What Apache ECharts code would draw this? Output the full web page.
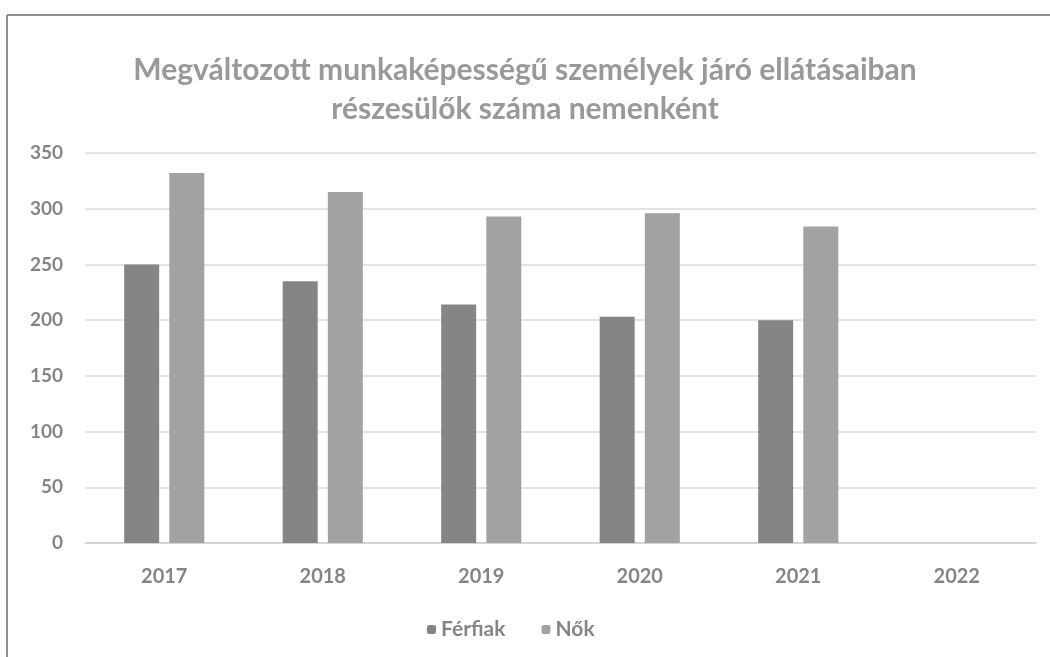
<!DOCTYPE html>
<html><head><meta charset="utf-8">
<script src="https://cdn.jsdelivr.net/npm/echarts@6/dist/echarts.min.js"></script>
<style>html,body{margin:0;padding:0;background:#fff}#c{width:1050px;height:657px}</style>
</head><body><div id="c"></div>
<script>
const categories = ['2017','2018','2019','2020','2021','2022'];
const ferfiak = [250, 235, 214, 203, 200, null];
const nok = [332, 315, 293, 296, 284, null];
const yTicks = {min: 0, max: 350, interval: 50};
const titleLines = ['Megváltozott munkaképességű személyek járó ellátásaiban', 'részesülők száma nemenként'];

const chart = echarts.init(document.getElementById('c'), null, {renderer: 'canvas'});
chart.setOption({
  backgroundColor: '#fff',
  animation: false,
  title: {
    text: titleLines.join('\n'),
    left: 'center', top: 46,
    padding: [5, 5, 5, 29],
    textStyle: {fontFamily: 'Lato', fontWeight: 'bold', fontSize: 30, color: '#999999', lineHeight: 39}
  },
  legend: {
    bottom: 12, left: 422,
    itemWidth: 9, itemHeight: 9, itemGap: 36,
    textStyle: {fontFamily: 'Lato', fontWeight: 'bold', fontSize: 21, color: '#858585'},
    data: ['Férfiak', 'Nők']
  },
  grid: {left: 85, right: 14, top: 153, bottom: 114, containLabel: false},
  xAxis: {
    type: 'category', data: categories,
    axisLine: {lineStyle: {color: '#d0d0d0', width: 1.5}},
    axisTick: {show: false},
    axisLabel: {fontFamily: 'Lato', fontWeight: 'bold', fontSize: 20, color: '#858585', margin: 24}
  },
  yAxis: {
    type: 'value', min: yTicks.min, max: yTicks.max, interval: yTicks.interval,
    axisLine: {show: false}, axisTick: {show: false},
    axisLabel: {fontFamily: 'Lato', fontWeight: 'bold', fontSize: 19, color: '#858585', margin: 22},
    splitLine: {lineStyle: {color: '#dadada', width: 1.5}}
  },
  series: [
    {name: 'Férfiak', type: 'bar', data: ferfiak, barWidth: 35, barGap: '29%',
     itemStyle: {color: '#858585'}},
    {name: 'Nők', type: 'bar', data: nok, barWidth: 35,
     itemStyle: {color: '#a2a2a2'}}
  ],
  graphic: [
    {type: 'line', shape: {x1: 7, y1: 15, x2: 1050, y2: 15}, style: {stroke: '#8f8f8f', lineWidth: 2}},
    {type: 'line', shape: {x1: 7, y1: 15, x2: 7, y2: 657}, style: {stroke: '#8f8f8f', lineWidth: 2}}
  ]
});
</script></body></html>
